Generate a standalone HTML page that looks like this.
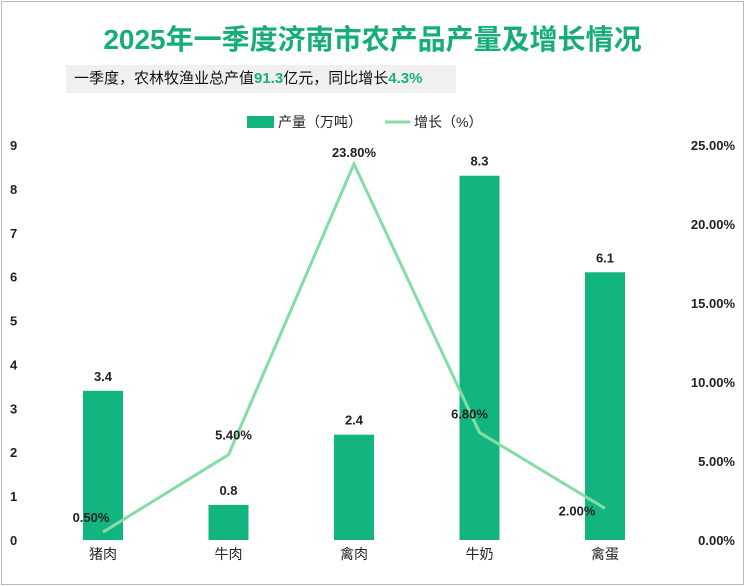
<!DOCTYPE html>
<html><head><meta charset="utf-8"><style>
body{margin:0;width:745px;height:586px;background:#fff;overflow:hidden;font-family:"Liberation Sans","Noto Sans CJK SC",sans-serif}
#frame{position:absolute;left:1px;top:1px;width:741px;height:582px;border:1px solid #bbb}
#title{position:absolute;left:0;width:745px;top:18px;text-align:center;font-size:28px;font-weight:bold;color:#17ad78}
#sub{position:absolute;left:66px;top:65px;width:390px;height:28px;background:#f0f0f0;font-size:15px;line-height:28px;padding-left:8px;box-sizing:border-box;color:#111}
#sub b{color:#17b27c}
</style></head><body>
<div id="frame"></div>
<div id="title">2025年一季度济南市农产品产量及增长情况</div>
<div id="sub">一季度，农林牧渔业总产值<b>91.3</b>亿元，同比增长<b>4.3%</b></div>
<svg id="c" width="745" height="586" style="position:absolute;left:0;top:0"></svg>
<script>
const categories=["猪肉","牛肉","禽肉","牛奶","禽蛋"];
const output=[3.4,0.8,2.4,8.3,6.1];
const growth=[0.5,5.4,23.8,6.8,2.0];
const leftTicks=[0,1,2,3,4,5,6,7,8,9];
const rightTicks=[0,5,10,15,20,25];
const svg=document.getElementById('c');const NS='http://www.w3.org/2000/svg';
const y0=540,y1=145,xs0=103,dx=125.5;
const yL=v=>y0-(y0-y1)*v/9, yR=v=>y0-(y0-y1)*v/25, xC=i=>xs0+dx*i;
function el(t,a,txt){const e=document.createElementNS(NS,t);for(const k in a)e.setAttribute(k,a[k]);if(txt!=null)e.textContent=txt;svg.appendChild(e);return e;}
leftTicks.forEach(v=>{const e=el('text',{x:10,y:yL(v)+5,'font-size':13,'font-weight':'bold',fill:'#222'},v);
});
rightTicks.forEach(v=>{const e=el('text',{x:735,y:yR(v)+5,'font-size':13,'font-weight':'bold',fill:'#222','text-anchor':'end'},v.toFixed(2)+'%');
});
output.forEach((v,i)=>{const b=el('rect',{x:xC(i)-20,y:yL(v),width:40,height:y0-yL(v),fill:'#12b57f'});

const t=el('text',{x:xC(i),y:yL(v)-10,'font-size':13,'font-weight':'bold','text-anchor':'middle',fill:'#222'},v.toFixed(1));
});
const p=el('polyline',{points:growth.map((v,i)=>xC(i)+','+yR(v)).join(' '),fill:'none',stroke:'#86dca6','stroke-width':3});

const off=[[-12,-15],[5,-20],[0,-12],[-10,-19],[-28,2]];
growth.forEach((v,i)=>{const t=el('text',{x:xC(i)+off[i][0],y:yR(v)+off[i][1]+5,'font-size':13,'font-weight':'bold','text-anchor':'middle',fill:'#222'},v.toFixed(2)+'%');
});
categories.forEach((c,i)=>{const t=el('text',{x:xC(i),y:559,'font-size':14,'text-anchor':'middle',fill:'#222'},c);
});
const lb=el('rect',{x:247,y:116,width:27,height:12,fill:'#12b57f'});
const lt=el('text',{x:278,y:127,'font-size':14,fill:'#222'},'产量（万吨）');
const ll=el('line',{x1:385,y1:122,x2:410,y2:122,stroke:'#86dca6','stroke-width':3});
const lt2=el('text',{x:414,y:127,'font-size':14,fill:'#222'},'增长（%）');
</script>
</body></html>
